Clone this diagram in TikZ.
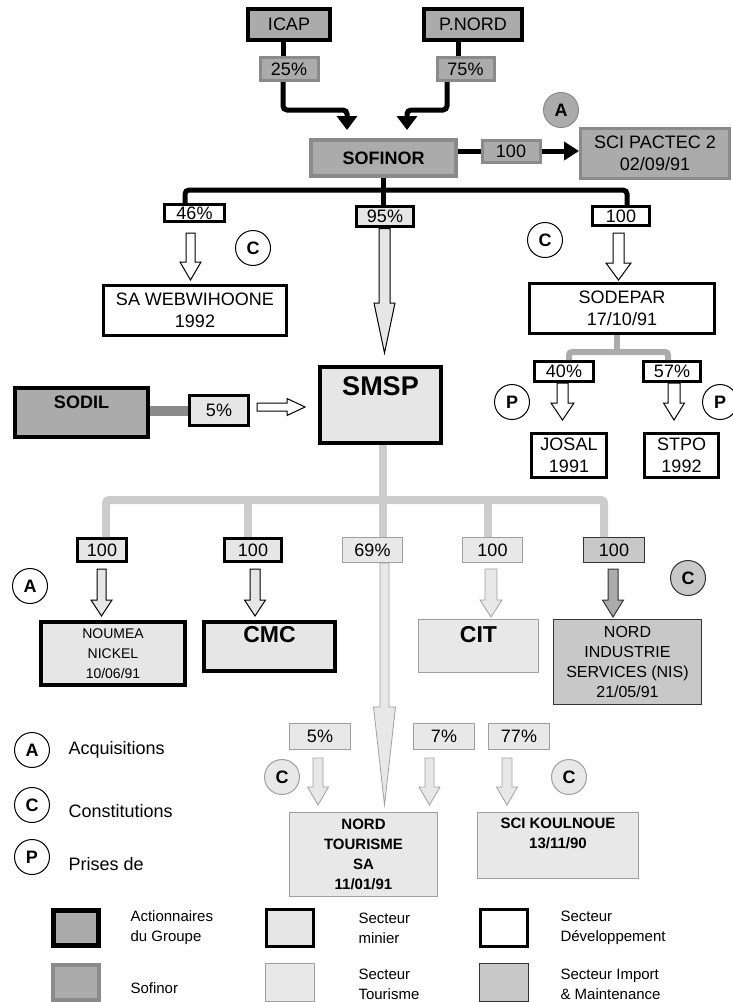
\documentclass[tikz,border=0pt]{standalone}
\usepackage{fontspec}
\setmainfont{Liberation Sans}
\usetikzlibrary{arrows.meta}
\definecolor{gA}{HTML}{ABABAB}
\definecolor{gB}{HTML}{8A8A8A}
\definecolor{gMin}{HTML}{E6E6E6}
\definecolor{gTour}{HTML}{E8E8E8}
\definecolor{gTourL}{HTML}{A0A0A0}
\definecolor{gImp}{HTML}{C8C8C8}
\definecolor{gLine}{HTML}{CCCCCC}
\definecolor{gDark}{HTML}{333333}
% #1 style, #2 x centre, #3 y top, #4 y head base, #5 y tip, #6 shaft half width, #7 head half width
\newcommand\blkarrow[7]{\draw[#1] (#2-#6,#3) -- (#2-#6,#4) -- (#2-#7,#4) -- (#2,#5) -- (#2+#7,#4) -- (#2+#6,#4) -- (#2+#6,#3) -- cycle;}
\begin{document}
\begin{tikzpicture}[x=1pt,y=-1pt,
  bx/.style={draw, rectangle, inner sep=0pt, align=center},
  wh/.style 2 args={minimum width=#1pt, minimum height=#2pt},
  f18/.style={font=\fontsize{18}{22}\selectfont},
  actio/.style={bx, fill=gA, draw=black, line width=4pt},
  sofi/.style={bx, fill=gA, draw=gB, line width=3pt},
  mini/.style={bx, fill=gMin, draw=black, line width=3.5pt},
  dev/.style={bx, fill=white, draw=black, line width=3pt},
  tour/.style={bx, fill=gTour, draw=gTourL, line width=1pt},
  imp/.style={bx, fill=gImp, draw=gDark, line width=1pt},
  circ/.style={circle, draw=black, fill=white, line width=1pt, minimum size=35pt, inner sep=0pt, font=\bfseries\fontsize{18}{18}\selectfont},
  blk/.style={line width=5pt, draw=black},
  blkarr/.style={blk, rounded corners=4pt, -{Triangle[width=20pt,length=14pt]}},
  sodline/.style={line width=6pt, draw=gA},
  smline/.style={line width=8pt, draw=gLine},
  hol/.style={fill=white, draw=black, line width=1pt},
  minarr/.style={fill=gMin, draw=black, line width=1pt},
  tourarr/.style={fill=gTour, draw=gTourL, line width=0.8pt},
  imparr/.style={fill=gA, draw=gDark, line width=1pt},
  legtxt/.style={anchor=west, align=left, font=\fontsize{15}{20}\selectfont},
  keytxt/.style={anchor=west, font=\fontsize{18}{22}\selectfont}]
\useasboundingbox (0,0) rectangle (733,1002);

% ---------- shareholders ----------
\node[actio, wh={82}{31}, f18] (icap) at (289,24.5) {ICAP};
\node[actio, wh={98}{31}, f18] (pnord) at (473,24.5) {P.NORD};
\node[sofi, wh={58}{23}, f18] (p25) at (289,69) {25\%};
\node[sofi, wh={57}{23}, f18] (p75) at (465.5,69) {75\%};
\node[sofi, line width=4pt, wh={145}{36}, font=\bfseries\fontsize{18}{22}\selectfont] (sofinor) at (383.5,158) {SOFINOR};
\node[sofi, wh={58}{22}, f18] (p100a) at (511,151) {100};
\node[sofi, wh={149}{50}, f18] (scip) at (655,153.5) {SCI PACTEC 2\\02/09/91};
\node[circ, fill=gA, draw=gB] (cA1) at (561,110) {A};

\draw[blk] ([xshift=-6pt]icap.south) -- ([xshift=-6pt]p25.north);
\draw[blkarr] ([xshift=-6pt]p25.south) -- ++(0,28) -| ([xshift=-36.5pt,yshift=8pt]sofinor.north);
\draw[blk] ([xshift=-15pt]pnord.south) -- ([xshift=-7.5pt]p75.north);
\draw[blkarr] ([xshift=-18.5pt]p75.south) -- ++(0,28) -| ([xshift=23.5pt,yshift=8pt]sofinor.north);
\draw[blk] (p100a.west -| sofinor.east) -- (p100a.west);
\draw[blk, -{Triangle[width=18pt,length=15pt]}] (p100a.east) -- (p100a.east -| scip.west);

% ---------- first level ----------
\node[dev, wh={60}{17}, f18] (p46) at (194.5,213) {46\%};
\node[mini, line width=3pt, wh={57}{20}, f18] (p95) at (385,216.5) {95\%};
\node[dev, wh={57}{19}, f18] (p100b) at (621,216) {100};
\draw[blk, rounded corners=4pt] ([xshift=-9.5pt]p46.north) -- ++(0,-13) -| ([xshift=6pt]p100b.north);
\draw[blk] (sofinor.south) -- (sofinor.south |- p95.north);

\node[dev, wh={183}{50}, f18] (saweb) at (195,310.5) {SA WEBWIHOONE\\1992};
\node[dev, wh={185}{50}, f18] (sodepar) at (622,308.5) {SODEPAR\\17/10/91};
\node[circ] (cC1) at (253,248) {C};
\node[circ] (cC2) at (545,240) {C};

\blkarrow{hol}{190.5}{233}{262}{280}{4.5}{10.5}
\blkarrow{minarr}{384.5}{228.5}{303}{353}{5.5}{10.5}
\blkarrow{hol}{618.5}{233}{263}{280}{5.5}{12.5}

% ---------- SODEPAR subsidiaries ----------
\node[dev, wh={59}{20}, f18] (p40) at (564,371.5) {40\%};
\node[dev, wh={57}{20}, f18] (p57) at (672,371.5) {57\%};
\draw[sodline] ([xshift=-5pt]sodepar.south) -- ++(0,17);
\draw[sodline, rounded corners=3pt] ([xshift=5pt]p40.north) -- ++(0,-8) -| ([xshift=-4pt]p57.north);
\node[dev, wh={75}{44}, f18] (josal) at (569,455.5) {JOSAL\\1991};
\node[dev, wh={74}{44}, f18] (stpo) at (681.5,455.5) {STPO\\1992};
\node[circ] (cP1) at (512,402) {P};
\node[circ] (cP2) at (720,402) {P};
\blkarrow{hol}{562.5}{383}{403}{420}{5.5}{11.5}
\blkarrow{hol}{674}{383}{403}{420}{6}{10.5}

% ---------- SODIL / SMSP ----------
\node[actio, line width=4.5pt, wh={133}{49}] (sodil) at (81.5,412.5) {};
\node[font=\bfseries\fontsize{18}{22}\selectfont] (sodiltxt) at (81.5,402) {SODIL};
\node[mini, line width=3pt, wh={59}{30}, f18] (p5s) at (219,410.5) {5\%};
\draw[line width=10pt, draw=gB] (p5s.west -| sodil.east) -- (p5s.west);
\draw[hol] (257,403) -- (287,403) -- (287,398.5) -- (305,407) -- (287,415.5) -- (287,411) -- (257,411) -- cycle;
\node[mini, line width=4pt, wh={121}{76}] (smsp) at (380.5,405) {};
\node[font=\bfseries\fontsize{27}{30}\selectfont] (smsptxt) at (380.5,386) {SMSP};

% ---------- SMSP subsidiaries ----------
\node[mini, line width=3pt, wh={49}{23}, f18] (p100c) at (102,550) {100};
\node[mini, line width=3pt, wh={57}{23}, f18] (p100d) at (253,550) {100};
\node[tour, wh={60}{25}, f18] (p69) at (372.5,550) {69\%};
\node[tour, wh={60}{25}, f18] (p100e) at (492.5,550) {100};
\node[imp, wh={61}{25}, f18] (p100f) at (614,550) {100};
\draw[smline] ([xshift=2.5pt]smsp.south) -- ([xshift=10.5pt]p69.north);
\draw[smline, rounded corners=3pt] ([xshift=4pt]p100c.north) -- ++(0,-37) -| ([xshift=-10pt]p100f.north);
\draw[smline] ([xshift=-5pt]p100d.north) -- ++(0,-37);
\draw[smline] ([xshift=-4.5pt]p100e.north) -- ++(0,-37);

\node[circ] (cA2) at (30,586) {A};
\node[circ, fill=gImp, draw=gDark] (cC3) at (688,578) {C};

\blkarrow{minarr}{101.5}{569}{600}{616}{4.5}{10.5}
\blkarrow{minarr}{255}{569}{600}{616}{5}{10.5}
\blkarrow{tourarr}{491}{569}{600}{617}{6}{11}
\blkarrow{imparr}{613}{569}{600}{617}{5}{10.5}
\blkarrow{tourarr}{384.5}{563}{707}{805}{4.5}{11}

\node[mini, wh={144}{63}, font=\fontsize{14}{20}\selectfont] (noumea) at (113,653.5) {NOUMEA\\NICKEL\\10/06/91};
\node[mini, wh={131}{49}] (cmc) at (269.5,646.5) {};
\node[font=\bfseries\fontsize{23}{26}\selectfont] (cmctxt) at (269.5,635) {CMC};
\node[tour, wh={120}{53}] (cit) at (478.5,646) {};
\node[font=\bfseries\fontsize{23}{26}\selectfont] (cittxt) at (478.5,635) {CIT};
\node[imp, wh={148}{85}, font=\fontsize{16}{20}\selectfont] (nis) at (627.5,662) {NORD\\INDUSTRIE\\SERVICES (NIS)\\21/05/91};

% ---------- tourism ----------
\node[tour, wh={61}{26}, f18] (p5t) at (320,736.5) {5\%};
\node[tour, wh={61}{26}, f18] (p7) at (444,736.5) {7\%};
\node[tour, wh={61}{26}, f18] (p77) at (519,736.5) {77\%};
\node[circ, fill=gTour, draw=gTourL] (cC4) at (282,777) {C};
\node[circ, fill=gTour, draw=gTourL] (cC5) at (569,777) {C};
\blkarrow{tourarr}{318}{758}{787}{805}{5}{10.5}
\blkarrow{tourarr}{429.5}{758}{787}{805}{4.5}{10.5}
\blkarrow{tourarr}{507}{758}{787}{805}{5}{10.5}
\node[tour, wh={148}{84}, font=\bfseries\fontsize{15}{20}\selectfont] (nordt) at (363.5,854.5) {NORD\\TOURISME\\SA\\11/01/91};
\node[tour, wh={161}{66}] (scik) at (558,845.5) {};
\node[anchor=north, align=center, font=\bfseries\fontsize{15}{20}\selectfont] (sciktxt) at (558,814) {SCI KOULNOUE\\13/11/90};

% ---------- key ----------
\node[circ] (kA) at (32,750) {A};
\node[circ] (kC) at (32,805) {C};
\node[circ] (kP) at (32,857) {P};
\node[keytxt] (kAt) at (65,750) {Acquisitions};
\node[keytxt] (kCt) at (65,811) {Constitutions};
\node[keytxt] (kPt) at (65,864) {Prises de};

\node[actio, line width=5pt, wh={45}{35}] (lg1) at (76,928) {};
\node[mini, wh={47}{37}] (lg2) at (290,928) {};
\node[dev, line width=3.5pt, wh={47}{37}] (lg3) at (504,928) {};
\node[sofi, line width=4pt, wh={46}{35}] (lg4) at (76,982.5) {};
\node[tour, wh={49}{38}] (lg5) at (290,982.5) {};
\node[imp, wh={49}{38}] (lg6) at (504,982.5) {};
\node[legtxt] (lt1) at (127,928) {Actionnaires\\du Groupe};
\node[legtxt] (lt2) at (355,928) {Secteur\\minier};
\node[legtxt] (lt3) at (557,928) {Secteur\\Développement};
\node[legtxt] (lt4) at (127,988) {Sofinor};
\node[legtxt] (lt5) at (355,984) {Secteur\\Tourisme};
\node[legtxt] (lt6) at (557,984) {Secteur Import\\\& Maintenance};
\end{tikzpicture}
\end{document}
